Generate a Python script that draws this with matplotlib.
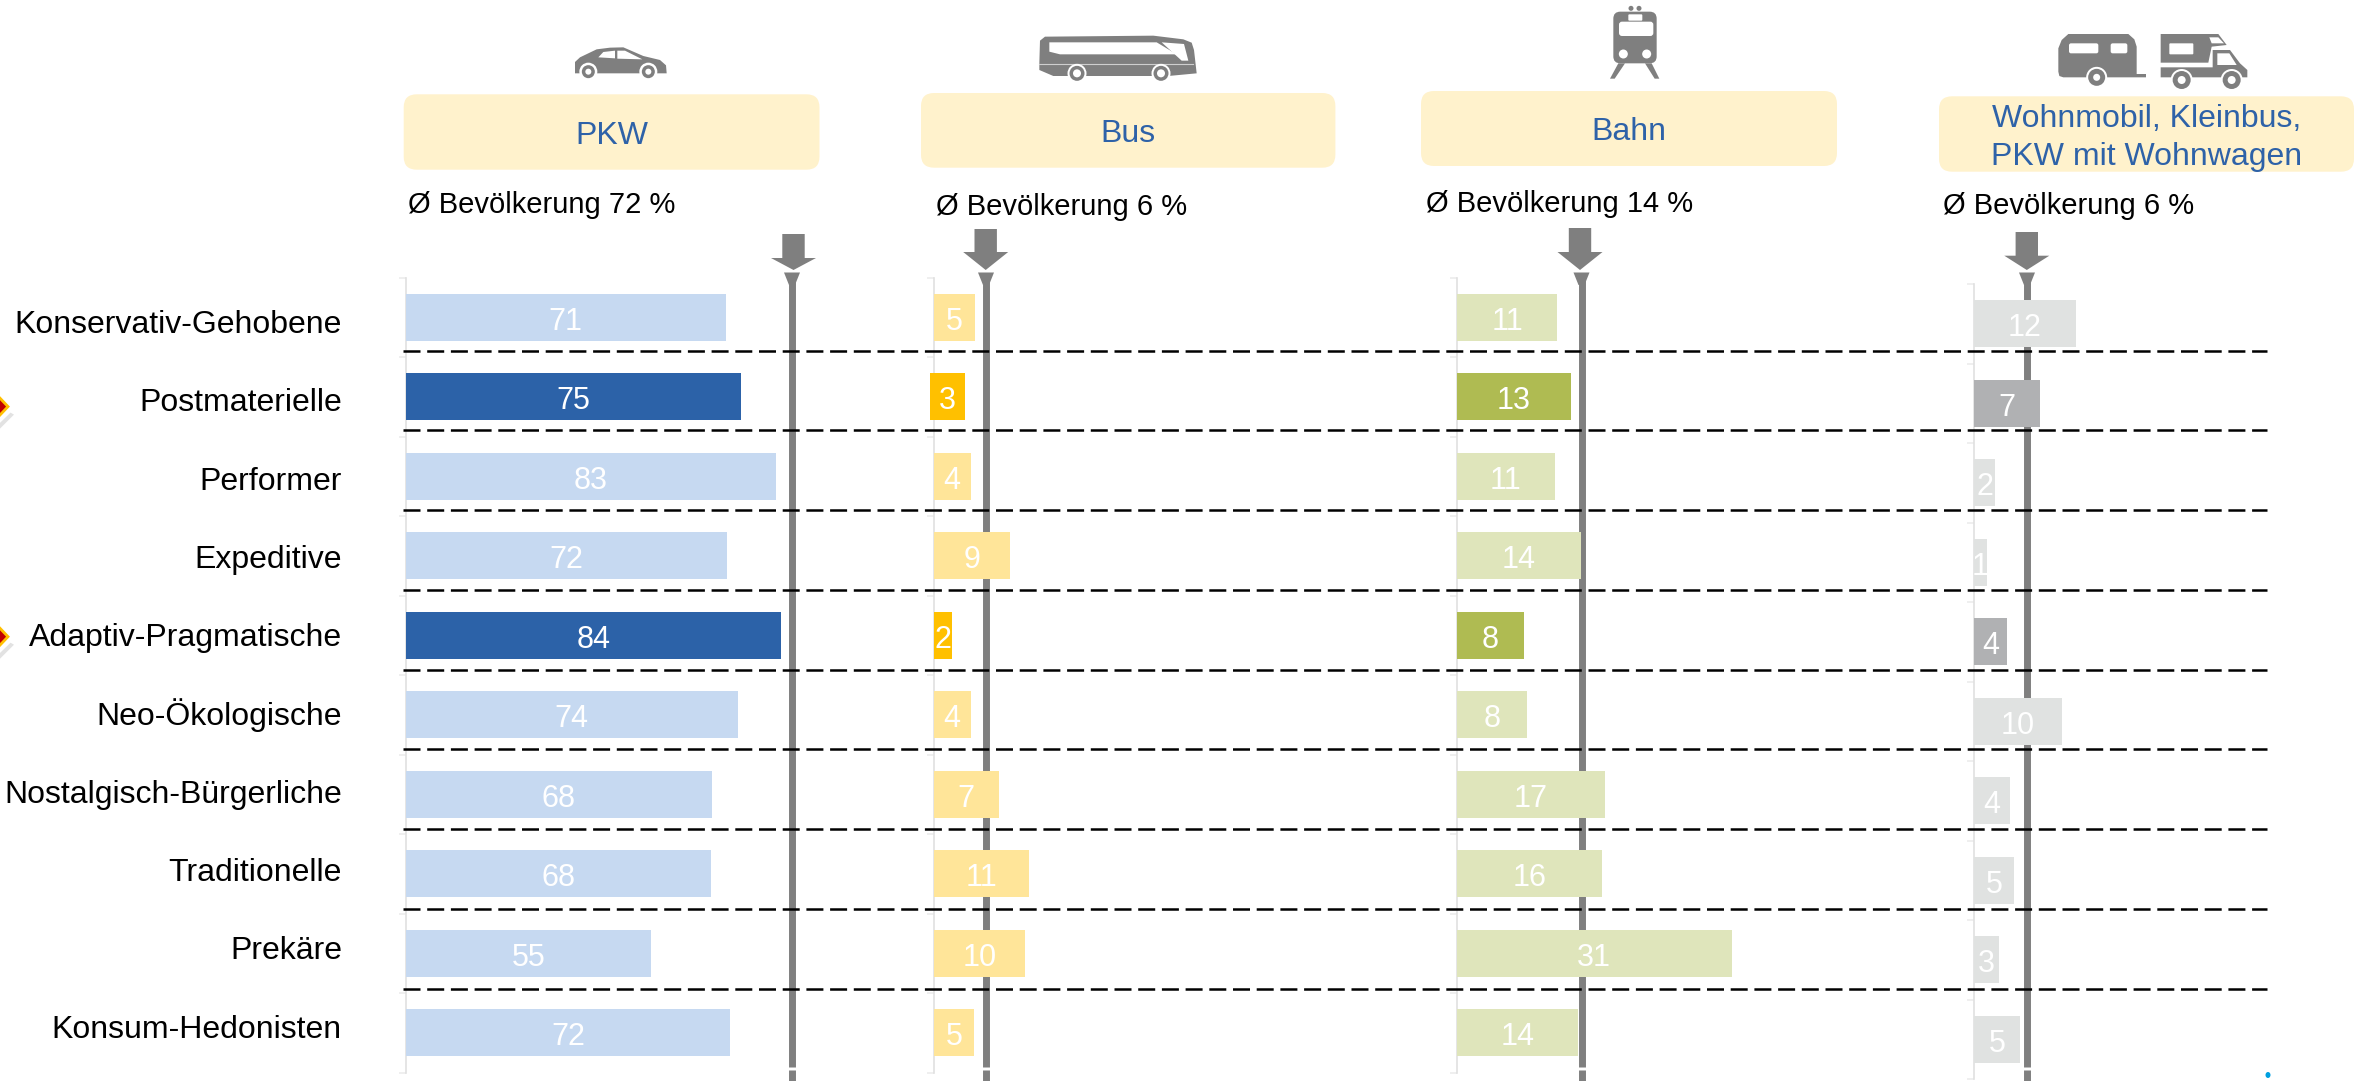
import matplotlib
matplotlib.use('Agg')
import matplotlib.pyplot as plt
from matplotlib.patches import Polygon, Circle, FancyBboxPatch, Ellipse

plt.rcParams['font.family'] = ['Liberation Sans', 'DejaVu Sans']

W, H = 2367, 1081

categories = ['Konservativ-Gehobene', 'Postmaterielle', 'Performer', 'Expeditive',
              'Adaptiv-Pragmatische', 'Neo-Ökologische', 'Nostalgisch-Bürgerliche',
              'Traditionelle', 'Prekäre', 'Konsum-Hedonisten']

# bar lengths, labels as printed
pkw_values = [71.6, 75.0, 82.9, 71.8, 84.0, 74.3, 68.5, 68.3, 55.0, 72.6]
pkw_labels = [71, 75, 83, 72, 84, 74, 68, 68, 55, 72]
bus_values = [4.7, 3.9, 4.2, 8.7, 2.05, 4.2, 7.4, 10.8, 10.4, 4.6]
bus_labels = [5, 3, 4, 9, 2, 4, 7, 11, 10, 5]
bahn_values = [11.4, 12.9, 11.1, 14.1, 7.6, 7.9, 16.8, 16.5, 31.2, 13.8]
bahn_labels = [11, 13, 11, 14, 8, 8, 17, 16, 31, 14]
wohn_values = [11.6, 7.5, 2.4, 1.5, 3.75, 10.0, 4.1, 4.5, 2.8, 5.2]
wohn_labels = [12, 7, 2, 1, 4, 10, 4, 5, 3, 5]

highlight = [1, 4]
headers = ['PKW', 'Bus', 'Bahn', 'Wohnmobil, Kleinbus,\nPKW mit Wohnwagen']
averages = ['Ø Bevölkerung 72 %', 'Ø Bevölkerung 6 %', 'Ø Bevölkerung 14 %', 'Ø Bevölkerung 6 %']

GRAY = '#7f7f7f'
BOX = '#fff2cc'
BLUE = '#2e62a8'


def panel(x0, top, bottom, scale, values, labels, light, dark, shift=None):
    # one bar panel, x0/top/bottom in picture pixels, scale in pixels per unit
    width = 480
    ax = fig.add_axes([x0 / W, 1 - bottom / H, width / W, (bottom - top) / H], zorder=2)
    ax.patch.set_alpha(0)
    ax.set_xlim(0, width / scale)
    ax.set_ylim(9.5, -0.5)
    for s in ['top', 'right', 'bottom']:
        ax.spines[s].set_visible(False)
    ax.spines['left'].set_color('#e0e0e0')
    ax.spines['left'].set_linewidth(1.2)
    ax.set_xticks([])
    ax.set_yticks([i - 0.5 for i in range(11)])
    ax.set_yticklabels([])
    ax.tick_params(axis='y', length=5, width=1.2, color='#ececec')
    for i, v in enumerate(values):
        left = shift.get(i, 0) if shift else 0
        col = dark if i in highlight else light
        ax.barh(i, v, left=left, height=0.585, color=col, clip_on=False, zorder=3)
        ax.text(left + v / 2, i + 0.01, str(labels[i]), color='white', fontsize=22,
                ha='center', va='center_baseline', clip_on=False, zorder=4)
    return ax


def shape(ov, pts, ox, oy, k, color=GRAY, z=3):
    ov.add_patch(Polygon([(ox + x * k, oy + y * k) for x, y in pts], closed=True,
                         facecolor=color, edgecolor='none', zorder=z))


def wheel(ov, x, y, r1, r2, r3):
    ov.add_patch(Circle((x, y), r1, facecolor='white', edgecolor='none', zorder=4))
    ov.add_patch(Circle((x, y), r2, facecolor=GRAY, edgecolor='none', zorder=5))
    ov.add_patch(Circle((x, y), r3, facecolor='white', edgecolor='none', zorder=6))


def box(ov, x1, y1, x2, y2, color, z=4, r=3):
    ov.add_patch(FancyBboxPatch((x1 + r, y1 + r), x2 - x1 - 2 * r, y2 - y1 - 2 * r,
                                boxstyle='round,pad=%d,rounding_size=%d' % (r, r),
                                facecolor=color, edgecolor='none', zorder=z))


def draw_icons(ov):
    # car
    k, ox, oy = 1 / 3, 560, 40
    shape(ov, [(45, 66), (60, 52), (110, 28), (150, 23), (190, 22), (250, 48), (300, 60),
               (318, 76), (320, 100), (45, 100)], ox, oy, k)
    shape(ov, [(115, 52), (130, 36), (165, 32), (165, 55)], ox, oy, k, 'white', 4)
    shape(ov, [(172, 32), (195, 32), (247, 58), (172, 56)], ox, oy, k, 'white', 4)
    wheel(ov, ox + 85 * k, oy + 95 * k, 9, 6.5, 3)
    wheel(ov, ox + 265 * k, oy + 95 * k, 9, 6.5, 3)
    # bus
    k, ox, oy = 1 / 3, 1020, 20
    shape(ov, [(58, 130), (60, 62), (75, 50), (400, 47), (490, 58), (515, 68), (522, 90),
               (530, 160), (445, 168), (100, 168), (58, 150)], ox, oy, k)
    shape(ov, [(88, 67), (410, 67), (470, 103), (120, 103), (88, 95)], ox, oy, k, 'white', 4)
    shape(ov, [(425, 67), (492, 72), (505, 122), (485, 122)], ox, oy, k, 'white', 4)
    ov.plot([ox + 58 * k, ox + 520 * k], [oy + 131 * k] * 2, color='#cfcfcf', lw=0.8, zorder=4)
    wheel(ov, ox + 171 * k, oy + 160 * k, 9.5, 7.5, 4)
    wheel(ov, ox + 423 * k, oy + 160 * k, 9.5, 7.5, 4)
    # train
    k, ox, oy = 1 / 3, 1590, 0
    box(ov, ox + 70 * k, oy + 35 * k, ox + 200 * k, oy + 190 * k, GRAY, 3, 7)
    box(ov, ox + 87 * k, oy + 65 * k, ox + 190 * k, oy + 108 * k, 'white', 4, 3)
    box(ov, ox + 115 * k, oy + 43 * k, ox + 157 * k, oy + 62 * k, 'white', 4, 1)
    for cx in [100, 170]:
        ov.add_patch(Circle((ox + cx * k, oy + 162 * k), 4.5, facecolor='white', edgecolor='none', zorder=4))
    for cx in [123, 147]:
        ov.add_patch(Circle((ox + cx * k, oy + 25 * k), 2.5, facecolor=GRAY, edgecolor='none', zorder=4))
    shape(ov, [(85, 190), (105, 190), (74, 236), (60, 236)], ox, oy, k)
    shape(ov, [(165, 190), (185, 190), (208, 236), (194, 236)], ox, oy, k)
    # caravan
    k, ox, oy = 1 / 3, 2040, 20
    shape(ov, [(55, 155), (55, 85), (65, 60), (85, 42), (265, 42), (283, 58), (290, 80),
               (290, 162), (318, 162), (318, 172), (70, 172), (58, 168)], ox, oy, k)
    box(ov, ox + 87 * k, oy + 70 * k, ox + 175 * k, oy + 100 * k, 'white', 4, 2)
    box(ov, ox + 212 * k, oy + 70 * k, ox + 262 * k, oy + 100 * k, 'white', 4, 2)
    wheel(ov, ox + 170 * k, oy + 172 * k, 10.5, 8.5, 3.5)
    # motorhome
    shape(ov, [(362, 42), (535, 42), (560, 75), (515, 80), (505, 128), (362, 128)], ox, oy, k)
    shape(ov, [(362, 142), (518, 142), (518, 90), (570, 90), (600, 130), (622, 150),
               (622, 172), (362, 172)], ox, oy, k)
    box(ov, ox + 388 * k, oy + 70 * k, ox + 460 * k, oy + 103 * k, 'white', 4, 1)
    shape(ov, [(508, 52), (535, 52), (552, 70), (515, 70)], ox, oy, k, 'white', 4)
    shape(ov, [(532, 100), (568, 100), (590, 135), (532, 135)], ox, oy, k, 'white', 4)
    wheel(ov, ox + 425 * k, oy + 180 * k, 11, 9, 4)
    wheel(ov, ox + 575 * k, oy + 180 * k, 11, 9, 4)


fig = plt.figure(figsize=(W / 100, H / 100), dpi=100, facecolor='white')

# back layer: grey reference lines, boxes, arrows, icons
ov = fig.add_axes([0, 0, 1, 1], zorder=1)
ov.set_xlim(0, W)
ov.set_ylim(H, 0)
ov.axis('off')

line_x = [792, 986, 1581.5, 2027]
arrow_x = [793.5, 985.7, 1580, 2026.8]
arrow_top = [234, 229, 228, 232]
arrow_sh = [258, 252, 252, 255.7]
for lx, ax_, t, s in zip(line_x, arrow_x, arrow_top, arrow_sh):
    ov.plot([lx, lx], [273, 1067], color=GRAY, lw=5, solid_capstyle='butt', zorder=1)
    ov.plot([lx, lx], [1070, H], color=GRAY, lw=5, solid_capstyle='butt', zorder=1)
    ov.add_patch(Polygon([(lx - 8, 272.5), (lx + 8, 272.5), (lx + 3, 285), (lx - 3, 285)],
                         facecolor=GRAY, edgecolor='none', zorder=1))
    ov.add_patch(Polygon([(ax_ - 11.2, t), (ax_ + 11.2, t), (ax_ + 11.2, s), (ax_ + 22.5, s),
                          (ax_, 270), (ax_ - 22.5, s), (ax_ - 11.2, s)],
                         facecolor=GRAY, edgecolor='none', zorder=1))

box_x = [(403.7, 819.5), (921, 1335.4), (1421, 1837), (1939, 2354)]
box_y = [(94.3, 169.7), (93, 167.7), (91, 166), (96.3, 171.7)]
avg_pos = [(408, 205), (936, 207), (1426, 204), (1943, 206)]
for i, head in enumerate(headers):
    (x1, x2), (y1, y2) = box_x[i], box_y[i]
    box(ov, x1, y1, x2, y2, BOX, 2, 13)
    ov.text((x1 + x2) / 2, (y1 + y2) / 2 + 4, head, color=BLUE, fontsize=23, ha='center',
            va='center', linespacing=1.32)
    ov.text(avg_pos[i][0], avg_pos[i][1], averages[i], color='black', fontsize=21,
            ha='left', va='center')

draw_icons(ov)

for i, c in enumerate(categories):
    ov.text(342, 333 + 78.3 * i, c, color='black', fontsize=23, ha='right', va='baseline')

# diamonds at the left edge
for i in highlight:
    yc = 406.6 + (i - 1) * 76.7
    ov.add_patch(Polygon([(10.5, yc + 6), (-11, yc + 27), (-11, yc + 33), (14, yc + 8)],
                         facecolor='#e2e2e2', edgecolor='none', zorder=2))
    ov.add_patch(Polygon([(-11, yc - 20), (8, yc), (-11, yc + 20)],
                         facecolor='#c00000', edgecolor='#ffc000', lw=2, zorder=3))

ov.add_patch(Ellipse((2268, 1075), 5, 6, facecolor='#00a0e0', edgecolor='none'))

panel(405.6, 277.5, 1072.5, 4.47, pkw_values, pkw_labels, '#c6d9f1', '#2c62a8')
panel(933.7, 277.5, 1072.5, 8.8, bus_values, bus_labels, '#ffe599', '#ffc000', shift={1: -0.4})
panel(1457, 277.5, 1072.5, 8.8, bahn_values, bahn_labels, '#dfe5bb', '#afbb52')
panel(1974, 284, 1079, 8.8, wohn_values, wohn_labels, '#e0e2e1', '#b0b1b3')

# dashed row separators on top of everything
top = fig.add_axes([0, 0, 1, 1], zorder=3)
top.set_xlim(0, W)
top.set_ylim(H, 0)
top.axis('off')
for k in range(9):
    y = 350.7 + 79.75 * k
    top.plot([403, 2267], [y, y], color='black', lw=1.8,
             linestyle=(0, (17 * 0.72 / 1.8, 6.7 * 0.72 / 1.8)), dash_capstyle='butt')

fig.savefig('out.png', dpi=100)
